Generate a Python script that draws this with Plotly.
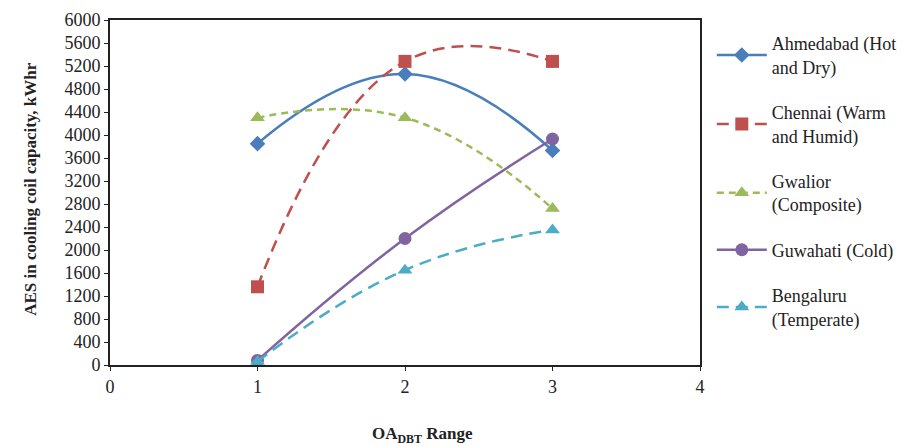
import plotly.graph_objects as go

x_vals = [1, 2, 3]
ahmedabad = [3850, 5060, 3730]
chennai = [1360, 5280, 5280]
gwalior = [4300, 4300, 2720]
guwahati = [80, 2200, 3930]
bengaluru = [60, 1650, 2350]

names = ["Ahmedabad (Hot<br>and Dry)", "Chennai (Warm<br>and Humid)",
         "Gwalior<br>(Composite)", "Guwahati (Cold)", "Bengaluru<br>(Temperate)"]
series = [ahmedabad, chennai, gwalior, guwahati, bengaluru]
colors = ["#4A7EBB", "#C0504D", "#9BBB59", "#8064A2", "#4BACC6"]
symbols = ["diamond", "square", "triangle-up", "circle", "triangle-up"]
dashes = ["solid", "12px,7px", "7px,5px", "solid", "12px,7px"]
msizes = [12, 13, 13, 13, 13]

y_ticks = list(range(0, 6001, 400))
x_ticks = [0, 1, 2, 3, 4]

fig = go.Figure()
for i, (n, s) in enumerate(zip(names, series)):
    fig.add_trace(go.Scatter(
        x=x_vals, y=s, name=n, mode="lines+markers",
        line=dict(color=colors[i], width=2.5, dash=dashes[i], shape="spline", smoothing=1.3),
        marker=dict(symbol=symbols[i], size=msizes[i], color=colors[i]),
        legendgroup=str(i),
    ))

font_family = "Liberation Serif"
fig.update_layout(
    width=909, height=438,
    margin=dict(l=102, r=217, t=12, b=81),
    paper_bgcolor="white", plot_bgcolor="white",
    font=dict(family=font_family, size=18, color="#222"),
    showlegend=True,
    legend=dict(x=1.02, xanchor="left", y=0.985, yanchor="top",
                font=dict(size=18, family=font_family, color="#222"),
                tracegroupgap=19, itemwidth=50, bgcolor="rgba(0,0,0,0)"),
    xaxis=dict(range=[0, 4], tickvals=x_ticks, showgrid=False, zeroline=False,
               showline=True, linecolor="#222", linewidth=2, mirror=True,
               ticks="outside", ticklen=4, tickcolor="#222", automargin=False,
               tickfont=dict(size=18)),
    yaxis=dict(range=[0, 6000], tickvals=y_ticks, showgrid=False, zeroline=False,
               showline=True, linecolor="#222", linewidth=2, mirror=True,
               ticks="outside", ticklen=4, tickcolor="#222", automargin=False,
               tickfont=dict(size=18)),
    annotations=[
        dict(text="<b>OA<sub>DBT</sub> Range</b>", xref="paper", yref="paper",
             x=0.53, y=-0.203, xanchor="center", yanchor="middle", showarrow=False,
             font=dict(size=17)),
        dict(text="<b>AES in cooling coil capacity, kWhr</b>", xref="paper", yref="paper",
             x=-0.136, y=0.51, xanchor="center", yanchor="middle", showarrow=False,
             textangle=-90, font=dict(size=17)),
    ],
)

fig.write_html("out.html")
